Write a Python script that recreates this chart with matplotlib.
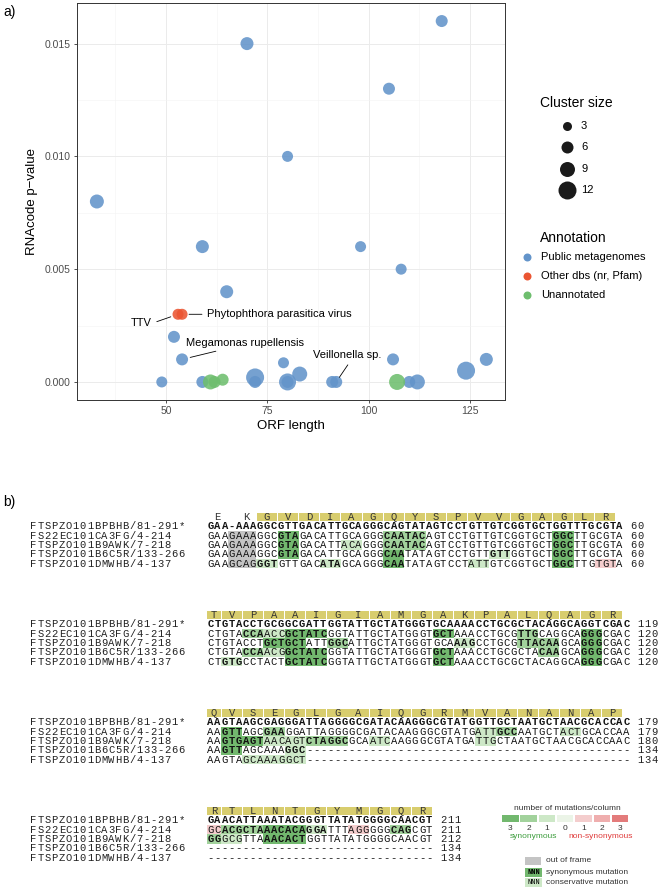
import matplotlib
matplotlib.use('Agg')
import matplotlib.pyplot as plt
import matplotlib.patches as patches
from matplotlib.ticker import FormatStrFormatter

plt.rcParams['font.family'] = ['Liberation Sans', 'DejaVu Sans']

# ---------------- panel a) data ----------------
orf_length = [33, 70, 80, 59, 65, 118, 105, 98, 108,
              52, 54, 79, 83, 106, 129, 124,
              49, 59, 72, 72, 80, 80, 91, 92, 110, 112,
              53, 54,
              61, 62, 64, 107]
p_value = [0.0080, 0.0150, 0.0100, 0.0060, 0.0040, 0.0160, 0.0130, 0.0060, 0.0050,
           0.0020, 0.0010, 0.00085, 0.00035, 0.0010, 0.0010, 0.0005,
           0.0, 0.0, 0.0002, 0.0, 0.0, 0.0, 0.0, 0.0, 0.0, 0.0,
           0.0030, 0.0030,
           0.0, 0.0, 0.0001, 0.0]
cluster_size = [8, 7, 5, 7, 7, 6, 6, 5, 5,
                6, 6, 5, 9, 6, 7, 12,
                5, 6, 12, 6, 11, 6, 6, 6, 6, 9,
                5, 5,
                9, 6, 6, 10]
annotation = (['Public metagenomes'] * 26 + ['Other dbs (nr, Pfam)'] * 2
              + ['Unannotated'] * 4)

annot_levels = ['Public metagenomes', 'Other dbs (nr, Pfam)', 'Unannotated']
annot_colors = ['#6394CA', '#EB5532', '#6EBE6E']
size_breaks = [3, 6, 9, 12]

# labelled clusters: text, index of the point, text anchor
label_text = ['TTV', 'Phytophthora parasitica virus', 'Megamonas rupellensis', 'Veillonella sp.']
label_point = [26, 27, 10, 23]
label_xy = [(46.6, 0.0026), (60.1, 0.0030), (54.9, 0.00173), (94.6, 0.00118)]

# ---------------- panel b) data ----------------
seq_names = ['FTSPZO101BPBHB/81-291*', 'FS22EC101CA3FG/4-214', 'FTSPZO101B9AWK/7-218',
             'FTSPZO101B6C5R/133-266', 'FTSPZO101DMWHB/4-137']

block_seqs = [
    ['GAA-AAAGGCGTTGACATTGCAGGGCAGTATAGTCCTGTTGTCGGTGCTGGTTTGCGTA',
     'GAAGAAAGGCGTAGACATTGCAGGGCAATACAGTCCTGTTGTCGGTGCTGGCTTGCGTA',
     'GAAGAAAGGCGTAGACATTACAGGGCAATACAGTCCTGTTGTCGGTGCTGGCTTGCGTA',
     'GAAGAAAGGCGTAGACATTGCAGGGCAATATAGTCCTGTTGTTGGTGCTGGCTTGCGTA',
     'GAAGCAGGGTGTTGACATAGCAGGGCAATATAGTCCTATTGTCGGTGCTGGCTTGTGTA'],
    ['CTGTACCTGCGGCGATTGGTATTGCTATGGGTGCAAAACCTGCGCTACAGGCAGGTCGAC',
     'CTGTACCAACCGCTATCGGTATTGCTATGGGTGCTAAACCTGCGTTGCAGGCAGGGCGAC',
     'CTGTACCTGCTGCTATTGGCATTGCTATGGGTGCAAAGCCTGCGTTACAAGCAGGGCGAC',
     'CTGTACCAACGGCTATCGGTATTGCTATGGGTGCTAAACCTGCGCTACAAGCAGGGCGAC',
     'CTGTGCCTACTGCTATCGGTATTGCTATGGGTGCTAAACCTGCGCTACAGGCAGGGCGAC'],
    ['AAGTAAGCGAGGGATTAGGGGCGATACAAGGGCGTATGGTTGCTAATGCTAACGCACCAC',
     'AAGTTAGCGAAGGATTAGGGGCGATACAAGGGCGTATGATTGCCAATGCTACTGCACCAA',
     'AAGTGAGTAACAGTCTAGGCGCAATCAAGGGCGTATGATTGCTAATGCTAACGCACCAAC',
     'AAGTTAGCAAAGGC' + '-' * 46,
     'AAGTAGCAAAGGCT' + '-' * 46],
    ['GAACATTAAATACGGGTTATATGGGGCAACGT',
     'GCACGCTAAACACAGGATTTAGGGGGCAGCGT',
     'GGGCGTTAAACACTGGTTATATGGGGCAACGT',
     '-' * 32,
     '-' * 32],
]
block_ends = [[60, 60, 60, 60, 60],
              [119, 120, 120, 120, 120],
              [179, 179, 180, 134, 134],
              [211, 211, 212, 134, 134]]
block_aa = ['EKGVDIAGQYSPVVGAGLR', 'TVPAAIGIAMGAKPALQAGR', 'QVSEGLGAIQGRMVANANAP', 'RTLNTGYMGQR']
aa_unboxed = [2, 0, 0, 0]

# (row, first col, end col, shade, bold)
block_marks = [
    [(1, 3, 7, 'oof', False), (1, 10, 13, 'g3', True), (1, 25, 31, 'g2', True), (1, 49, 52, 'g3', True),
     (2, 3, 7, 'oof', False), (2, 10, 13, 'g3', True), (2, 19, 22, 'g1', False), (2, 25, 31, 'g2', True),
     (2, 49, 52, 'g3', True),
     (3, 3, 7, 'oof', False), (3, 10, 13, 'g3', True), (3, 25, 28, 'g3', True), (3, 40, 43, 'g1', True),
     (3, 49, 52, 'g3', True),
     (4, 3, 7, 'oof', False), (4, 7, 10, 'g1', True), (4, 16, 19, 'g1', True), (4, 25, 28, 'g3', True),
     (4, 37, 40, 'g1', False), (4, 49, 52, 'g3', True), (4, 55, 58, 'r1', False)],
    [(1, 5, 8, 'g2', True), (1, 8, 11, 'g1', False), (1, 11, 17, 'g3', True), (1, 32, 35, 'g3', True),
     (1, 44, 47, 'g2', True), (1, 53, 56, 'g3', True),
     (2, 8, 14, 'g3', True), (2, 17, 20, 'g2', True), (2, 35, 38, 'g1', True), (2, 44, 47, 'g2', True),
     (2, 47, 50, 'g2', True), (2, 53, 56, 'g3', True),
     (3, 5, 8, 'g2', True), (3, 8, 11, 'g1', False), (3, 11, 17, 'g3', True), (3, 32, 35, 'g3', True),
     (3, 47, 50, 'g2', True), (3, 53, 56, 'g3', True),
     (4, 2, 5, 'g1', True), (4, 11, 17, 'g3', True), (4, 32, 35, 'g3', True), (4, 53, 56, 'g3', True)],
    [(1, 2, 5, 'g3', True), (1, 8, 11, 'g2', True), (1, 38, 41, 'g1', False), (1, 41, 44, 'g2', True),
     (1, 50, 53, 'g1', False),
     (2, 2, 8, 'g3', True), (2, 8, 14, 'g1', False), (2, 14, 20, 'g2', True), (2, 23, 26, 'g1', False),
     (2, 38, 41, 'g1', False),
     (3, 2, 5, 'g3', True), (3, 11, 14, 'g1', True),
     (4, 5, 14, 'g1', False)],
    [(1, 0, 2, 'r1', False), (1, 2, 8, 'g2', True), (1, 8, 14, 'g3', True), (1, 14, 17, 'g1', True),
     (1, 20, 23, 'r1', False), (1, 26, 29, 'g2', True),
     (2, 0, 2, 'g2', True), (2, 2, 5, 'g1', False), (2, 8, 14, 'g3', True)],
]

shade_colors = {'g3': '#72B86E', 'g2': '#A2D29C', 'g1': '#CDE8C7', 'g0': '#EBF4E7',
                'r1': '#F4CDCD', 'r2': '#EFAEAE', 'r3': '#E37B7B', 'oof': '#C4C4C4'}
legend_shades = ['g3', 'g2', 'g1', 'g0', 'r1', 'r2', 'r3']
legend_counts = ['3', '2', '1', '0', '1', '2', '3']

# ---------------- layout (pixels of the 660x890 canvas) ----------------
W, H = 660, 890
CW = 7.05          # character pitch of the alignment
LH = 9.3           # alignment line height
X0 = 207           # first alignment column
Y0 = 517           # header line of the first block
BLOCK_STEP = 98 / LH
NAME_COL = -25.1
MONO = 'Liberation Mono'
MONO_SIZE = 7.6


def rect(x0, y0, x1, y1):
    return [x0 / W, 1 - y1 / H, (x1 - x0) / W, (y1 - y0) / H]


def diam_pts(size):
    return (6.0 + size) * 0.72


fig = plt.figure(figsize=(6.6, 8.9), dpi=100)

# ---------------- a) scatter ----------------
ax = fig.add_axes(rect(77, 3, 505, 400))
for lev, col in zip(annot_levels, annot_colors):
    idx = [i for i, a in enumerate(annotation) if a == lev]
    ax.scatter([orf_length[i] for i in idx], [p_value[i] for i in idx],
               s=[diam_pts(cluster_size[i]) ** 2 for i in idx],
               color=col, alpha=0.88, linewidths=0, zorder=3)

ax.set_xlim(28.1, 133.6)
ax.set_ylim(-0.0008, 0.0168)
ax.set_xticks([50, 75, 100, 125])
ax.set_xticks([37.5, 62.5, 87.5, 112.5], minor=True)
ax.set_yticks([0, 0.005, 0.010, 0.015])
ax.set_yticks([0.0025, 0.0075, 0.0125], minor=True)
ax.yaxis.set_major_formatter(FormatStrFormatter('%.3f'))
ax.grid(which='major', color='#EBEBEB', lw=0.7, zorder=0)
ax.grid(which='minor', color='#F3F3F3', lw=0.4, zorder=0)
ax.set_axisbelow(True)
for sp in ax.spines.values():
    sp.set_color('#333333')
    sp.set_linewidth(0.7)
ax.tick_params(which='major', length=2.5, width=0.6, color='#333333',
               labelsize=7.5, labelcolor='#4D4D4D', pad=2)
ax.tick_params(which='minor', length=0)
ax.set_xlabel('ORF length', fontsize=9.5, labelpad=3)
ax.set_ylabel('RNAcode p\u2212value', fontsize=9.5, labelpad=5)

relpos = [(1.0, 0.5), (0.0, 0.5), (0.37, 0.0), (0.56, 0.0)]
text_ha = ['right', 'left', 'left', 'center']
shrink_b = [5.5, 5.0, 6.0, 4.0]
for t, pi, xy, rp, ha, sb in zip(label_text, label_point, label_xy, relpos, text_ha, shrink_b):
    ax.annotate(t, xy=(orf_length[pi], p_value[pi]), xytext=xy, fontsize=8,
                ha=ha, va='center',
                arrowprops=dict(arrowstyle='-', lw=0.6, color='black', relpos=rp,
                                shrinkA=1.5, shrinkB=sb))

# ---------------- overlay for legends and panel letters ----------------
ov = fig.add_axes([0, 0, 1, 1], zorder=5)
ov.set_xlim(0, W)
ov.set_ylim(H, 0)
ov.axis('off')

ov.text(3, 12, 'a)', fontsize=10, va='center')
ov.text(3, 502, 'b)', fontsize=10, va='center')

ov.text(540, 103, 'Cluster size', fontsize=10, va='center')
for i, s in enumerate(size_breaks):
    ov.scatter(567, 126 + 21.3 * i, s=diam_pts(s) ** 2, color='#1A1A1A', linewidths=0)
    ov.text(581, 126 + 21.3 * i, str(s), fontsize=8, va='center')

ov.text(540, 238, 'Annotation', fontsize=10, va='center')
for i, (lev, col) in enumerate(zip(annot_levels, annot_colors)):
    ov.scatter(527, 257 + 19 * i, s=diam_pts(2) ** 2, color=col, linewidths=0)
    ov.text(541, 257 + 19 * i, lev, fontsize=8, va='center')

# mutation legend
ov.text(567, 808, 'number of mutations/column', fontsize=6, ha='center', va='center',
        color='#333333')
for i, (sh, n) in enumerate(zip(legend_shades, legend_counts)):
    bx = 502 + 18.3 * i
    ov.add_patch(patches.Rectangle((bx, 815), 16.5, 7, facecolor=shade_colors[sh], lw=0))
    ov.text(bx + 8.2, 828, n, fontsize=6, ha='center', va='center', color='#333333')
ov.text(533, 837, 'synonymous', fontsize=6, ha='center', va='center', color='#3E9E3E')
ov.text(601, 837, 'non-synonymous', fontsize=6, ha='center', va='center', color='#E03C3C')
ov.add_patch(patches.Rectangle((525, 857), 16, 8, facecolor=shade_colors['oof'], lw=0))
ov.text(546, 861, 'out of frame', fontsize=6, va='center', color='#333333')
for j, (sh, wt, lab) in enumerate([('g3', 'bold', 'synonymous mutation'),
                                   ('g1', 'normal', 'conservative mutation')]):
    yy = 872 + 10 * j
    ov.add_patch(patches.Rectangle((525, yy - 4.5), 17, 9, facecolor=shade_colors[sh], lw=0))
    ov.text(533.5, yy, 'NNN', fontsize=5, family=MONO, weight=wt, ha='center', va='center')
    ov.text(546, yy, lab, fontsize=6, va='center', color='#333333')

# ---------------- b) alignment ----------------
aln = fig.add_axes(rect(0, 488, W, H))
aln.set_xlim(-X0 / CW, (W - X0) / CW)
aln.set_ylim((H - Y0) / LH, (488 - Y0) / LH)
aln.axis('off')


def put_chars(col0, y, s, bold_flags=None, color='#111111'):
    # one glyph per alignment column, so the pitch stays fixed
    for c, ch in enumerate(s):
        wt = 'bold' if bold_flags is not None and bold_flags[c] else 'normal'
        aln.text(col0 + c + 0.5, y, ch, family=MONO, fontsize=MONO_SIZE, ha='center',
                 va='baseline', weight=wt, color=color)


phase = 0
for b, (seqs, ends, aa) in enumerate(zip(block_seqs, block_ends, block_aa)):
    top = b * BLOCK_STEP
    # codon spans over the reference row (gaps skipped)
    ref_cols = [i for i, ch in enumerate(seqs[0]) if ch != '-']
    first = 3 - phase
    groups = [ref_cols[:first]]
    k = first
    while k < len(ref_cols):
        groups.append(ref_cols[k:k + 3])
        k += 3
    for j, letter in enumerate(aa):
        g = groups[j]
        c0, c1 = g[0], g[-1] + 1
        if j >= aa_unboxed[b]:
            aln.add_patch(patches.Rectangle((c0 + 0.07, top - 0.43), c1 - c0 - 0.14, 0.86,
                                            facecolor='#D8CD6E', lw=0))
        aln.text((c0 + c1) / 2, top + 0.33, letter, family=MONO, fontsize=MONO_SIZE,
                 ha='center', va='baseline', color='#333333')
    phase = len(groups[-1]) % 3 if len(groups) > len(aa) else 0

    bold = [[r == 0] * len(s) for r, s in enumerate(seqs)]
    for (r, c0, c1, sh, bd) in block_marks[b]:
        aln.add_patch(patches.Rectangle((c0, top + 1 + r - 0.5), c1 - c0, 1.0,
                                        facecolor=shade_colors[sh], lw=0))
        if bd:
            for c in range(c0, c1):
                bold[r][c] = True
    for r, s in enumerate(seqs):
        y = top + 1 + r + 0.34
        put_chars(NAME_COL, y, seq_names[r], color='#222222')
        put_chars(0, y, s, bold[r])
        put_chars(len(s) + 1, y, str(ends[r]), color='#222222')

fig.savefig('out.png', dpi=100)
